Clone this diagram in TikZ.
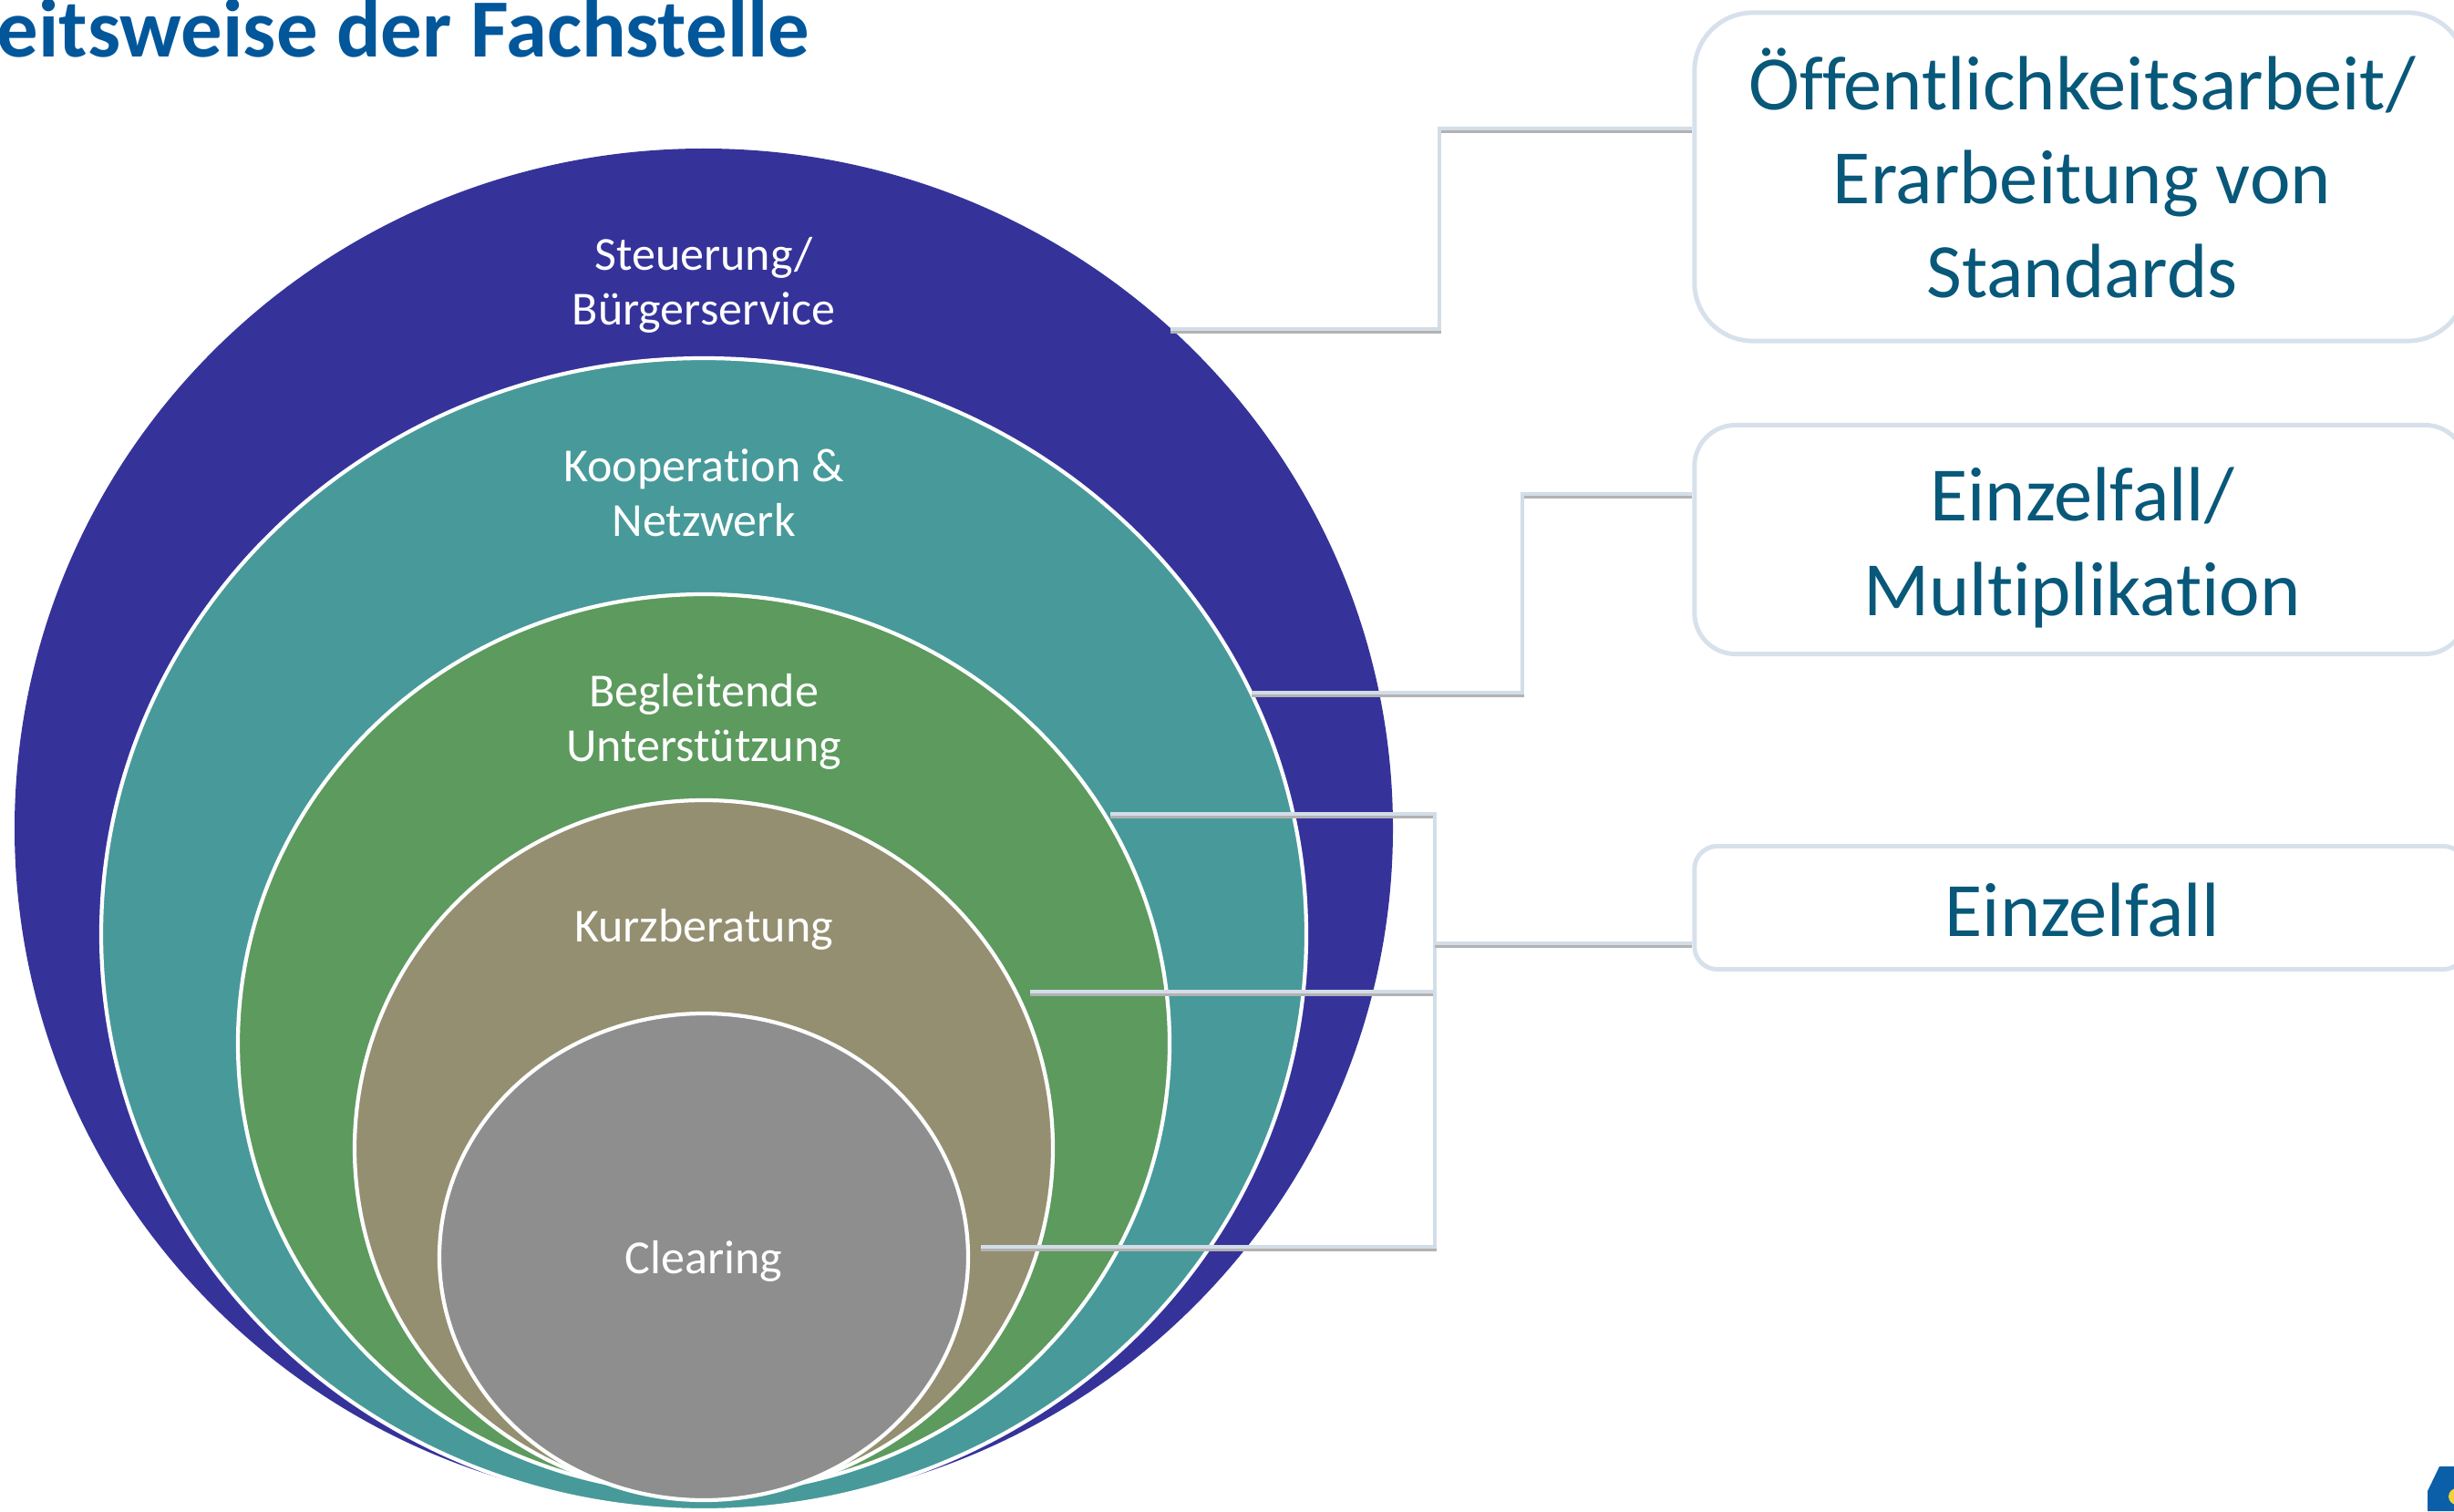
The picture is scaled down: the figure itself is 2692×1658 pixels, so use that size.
\documentclass[tikz,border=0pt]{standalone}
\usepackage{fontspec}
\setmainfont{Carlito}[Ligatures=NoCommon]

\definecolor{steuer}{HTML}{35339A}
\definecolor{koop}{HTML}{479A99}
\definecolor{begleit}{HTML}{5C9A5E}
\definecolor{kurz}{HTML}{948F71}
\definecolor{clear}{HTML}{8E8E8E}
\definecolor{titleblue}{HTML}{02579B}
\definecolor{boxtext}{HTML}{08587A}
\definecolor{boxline}{HTML}{D7E1EC}
\definecolor{linkcol}{HTML}{D3DDE8}
\definecolor{logoblue}{HTML}{0A5FA8}
\definecolor{logoyellow}{HTML}{F2D13A}

\def\cx{772}
\def\scale{0.01}

\begin{document}
\begin{tikzpicture}[x=\scale cm,y=-\scale cm,
  ring/.style={draw=white,line width=1.2pt},
  ringlabel/.style={text=white,align=center,font=\fontsize{14.8}{17}\selectfont},
  infobox/.style={draw=boxline,line width=1.4pt,fill=white,minimum width=8.46cm},
  boxlabel/.style={text=boxtext,align=center,font=\fontsize{24}{29.3}\selectfont},
  link/.style={draw=linkcol,line width=1.4pt,
    preaction={draw=black!30,line width=1.4pt,transform canvas={yshift=-0.8pt}}}]
 \useasboundingbox (0,0) rectangle (2692,1658);
 \clip (0,0) rectangle (2692,1658);
 % Title
 \node[anchor=base west,inner sep=0,text=titleblue,
   font=\fontsize{25.8}{30}\selectfont\bfseries] (title) at (-4,63) {eitsweise der Fachstelle};
 % Rings, outside in
 \fill[steuer] (\cx,909) ellipse [x radius=756,y radius=746];
 \foreach \cy/\rx/\ry/\col in {1025/661/632/koop,1145/511/493/begleit,
                               1260/383/382/kurz,1379/290/267/clear}
  \draw[ring,fill=\col] (\cx,\cy) ellipse [x radius=\rx,y radius=\ry];
 % Ring labels
 \node[ringlabel] (steuerung) at (\cx,313) {Steuerung/\\Bürgerservice};
 \node[ringlabel] (kooperation) at (\cx,541) {Kooperation \&\\Netzwerk};
 \node[ringlabel] (begleitend) at (\cx,792) {Begleitende\\Unterstützung};
 \node[ringlabel] (kurzber) at (\cx,1020) {Kurzberatung};
 \node[ringlabel] (clearing) at (\cx,1384) {Clearing};
 % Boxes
 \node[infobox,minimum height=3.6cm,rounded corners=0.64cm] (oeff) at (2282,194) {};
 \node[infobox,minimum height=2.51cm,rounded corners=0.45cm] (multi) at (2282,592) {};
 \node[infobox,minimum height=1.35cm,rounded corners=0.25cm] (einzel) at (2282,996) {};
 \node[boxlabel] (oefftext) at (2284,190) {Öffentlichkeitsarbeit/\\Erarbeitung von\\Standards};
 \node[boxlabel] (multitext) at (2284,601) {Einzelfall/\\Multiplikation};
 \node[boxlabel] (einzeltext) at (2284,998) {Einzelfall};
 % Connector ends
 \coordinate (s1) at (1284,361);
 \coordinate (s2) at (1373,760);
 \coordinate (s3) at (1218,893);
 \coordinate (s4) at (1130,1088);
 \coordinate (s5) at (1076,1368);
 \coordinate (h1) at (0,141);
 \coordinate (h2) at (0,542);
 \coordinate (joint) at (1574,1035);
 % Connectors
 \draw[link] (s1) -- ++(295,0) |- (oeff.west |- h1);
 \draw[link] (s2) -- ++(297,0) |- (multi.west |- h2);
 \foreach \s in {s3,s4,s5}
  \draw[link] (\s) -| (joint);
 \draw[link] (joint) -- (einzel.west |- joint);
 % Logo corner
 \fill[logoblue] (2663,1658) -- (2663,1636) -- (2676,1609) -- (2700,1609) -- (2700,1658) -- cycle;
 \fill[logoyellow] (2695,1642) circle (9);
\end{tikzpicture}
\end{document}
